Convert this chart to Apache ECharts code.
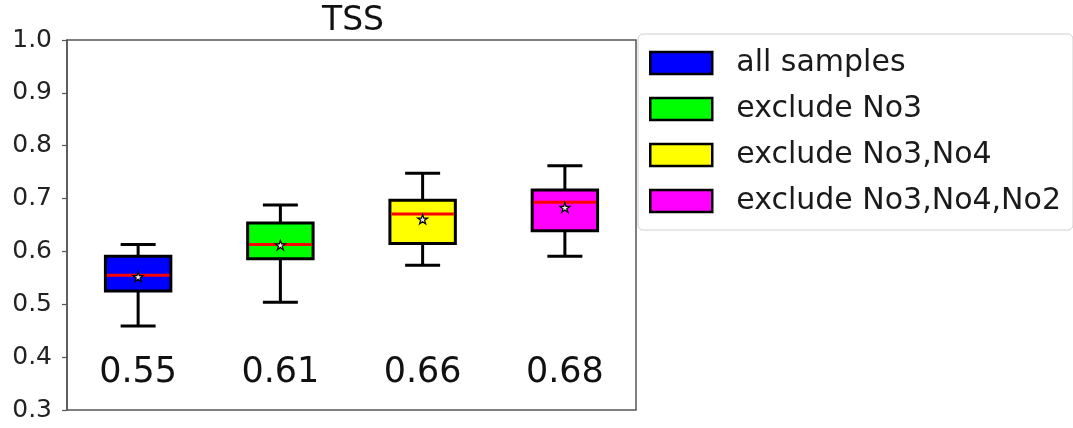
<!DOCTYPE html>
<html>
<head>
<meta charset="utf-8">
<script src="https://cdn.jsdelivr.net/npm/echarts@6/dist/echarts.min.js"></script>
<style>
  html, body { margin: 0; padding: 0; background: #fff; }
  #chart { width: 1073px; height: 428px; }
</style>
</head>
<body>
<div id="chart"></div>
<script>
// box statistics
const categories = ['all samples', 'exclude No3', 'exclude No3,No4', 'exclude No3,No4,No2']
const whiskerLow = [0.459, 0.504, 0.574, 0.591]
const q1 = [0.525, 0.586, 0.615, 0.639]
const medians = [0.555, 0.613, 0.671, 0.693]
const q3 = [0.591, 0.654, 0.697, 0.716]
const whiskerHigh = [0.613, 0.688, 0.748, 0.762]
const means = [0.552, 0.612, 0.661, 0.683]
const meanLabels = ['0.55', '0.61', '0.66', '0.68']
const labelLevel = 0.37
const colors = ['#0000ff', '#00ff00', '#ffff00', '#ff00ff']
const yMin = 0.3
const yMax = 1.0
const yStep = 0.1

const FONT = 'DejaVu Sans'
const STAR = 'M0,-1 L0.2245,-0.309 L0.951,-0.309 L0.363,0.118 L0.588,0.809 L0,0.382 L-0.588,0.809 L-0.363,0.118 L-0.951,-0.309 L-0.2245,-0.309 Z'

const chart = echarts.init(document.getElementById('chart'))

// 畫一個箱形
const renderBox = (params, api) => {
  const x = api.value(0)
  const band = api.size([1, 0])[0]
  const boxW = band * 0.46
  const capW = band * 0.246
  const pLow = api.coord([x, api.value(1)])
  const pQ1 = api.coord([x, api.value(2)])
  const pMed = api.coord([x, api.value(3)])
  const pQ3 = api.coord([x, api.value(4)])
  const pHigh = api.coord([x, api.value(5)])
  const pMean = api.coord([x, api.value(6)])
  const pLabel = api.coord([x, labelLevel])
  const cx = pMed[0]
  const black = { stroke: '#000', lineWidth: 3 }
  return {
    type: 'group',
    children: [
      { type: 'line', shape: { x1: cx, y1: pQ3[1], x2: cx, y2: pHigh[1] }, style: black },
      { type: 'line', shape: { x1: cx, y1: pLow[1], x2: cx, y2: pQ1[1] }, style: black },
      { type: 'line', shape: { x1: cx - capW / 2, y1: pHigh[1], x2: cx + capW / 2, y2: pHigh[1] }, style: black },
      { type: 'line', shape: { x1: cx - capW / 2, y1: pLow[1], x2: cx + capW / 2, y2: pLow[1] }, style: black },
      {
        type: 'rect',
        shape: { x: cx - boxW / 2, y: pQ3[1], width: boxW, height: pQ1[1] - pQ3[1] },
        style: { fill: api.visual('color'), stroke: '#000', lineWidth: 3 }
      },
      {
        type: 'line',
        shape: { x1: cx - boxW / 2 + 1.5, y1: pMed[1], x2: cx + boxW / 2 - 1.5, y2: pMed[1] },
        style: { stroke: '#ff0000', lineWidth: 3 }
      },
      {
        type: 'path',
        shape: { pathData: STAR, x: cx - 5, y: pMean[1] - 5, width: 10, height: 10 },
        style: { fill: '#eeeeee', stroke: '#000', lineWidth: 1.2 }
      },
      {
        type: 'text',
        x: cx,
        y: pLabel[1],
        style: {
          text: meanLabels[api.value(0)],
          fontFamily: FONT,
          fontSize: 35,
          fill: '#111',
          align: 'center',
          verticalAlign: 'middle'
        }
      }
    ]
  }
}

const series = categories.map((name, i) => ({
  name: name,
  type: 'custom',
  renderItem: renderBox,
  itemStyle: { color: colors[i] },
  encode: { x: 0, y: [1, 2, 3, 4, 5, 6] },
  data: [[i, whiskerLow[i], q1[i], medians[i], q3[i], whiskerHigh[i], means[i]]]
}))

const option = {
  animation: false,
  backgroundColor: '#fff',
  title: {
    text: 'TSS',
    left: 348,
    top: 0,
    textAlign: 'center',
    textStyle: { fontFamily: FONT, fontSize: 33, fontWeight: 'normal', color: '#111' }
  },
  legend: {
    orient: 'vertical',
    left: 638,
    top: 34,
    padding: [14, 12, 14, 11],
    itemWidth: 62,
    itemHeight: 22,
    itemGap: 16,
    icon: 'rect',
    backgroundColor: '#fff',
    borderColor: '#d0d0d0',
    borderWidth: 1,
    borderRadius: 5,
    itemStyle: { borderColor: '#000', borderWidth: 2.5 },
    textStyle: {
      fontFamily: FONT,
      fontSize: 30,
      color: '#1a1a1a',
      lineHeight: 30,
      padding: [0, 0, 0, 19]
    },
    data: categories
  },
  grid: {
    left: 67,
    right: 437,
    top: 40,
    bottom: 18,
    show: true,
    borderColor: '#555',
    borderWidth: 1.5,
    backgroundColor: 'transparent'
  },
  xAxis: {
    type: 'category',
    data: categories,
    axisLine: { show: false },
    axisTick: { show: false },
    axisLabel: { show: false },
    splitLine: { show: false }
  },
  yAxis: {
    type: 'value',
    min: yMin,
    max: yMax,
    interval: yStep,
    axisLine: { show: true, lineStyle: { color: '#555', width: 1.5 } },
    axisTick: { show: true, length: 5, lineStyle: { color: '#555', width: 1.2 } },
    axisLabel: {
      fontFamily: FONT,
      fontSize: 25,
      color: '#222',
      margin: 15,
      formatter: v => v.toFixed(1)
    },
    splitLine: { show: false }
  },
  series: series
}

chart.setOption(option)
</script>
</body>
</html>
